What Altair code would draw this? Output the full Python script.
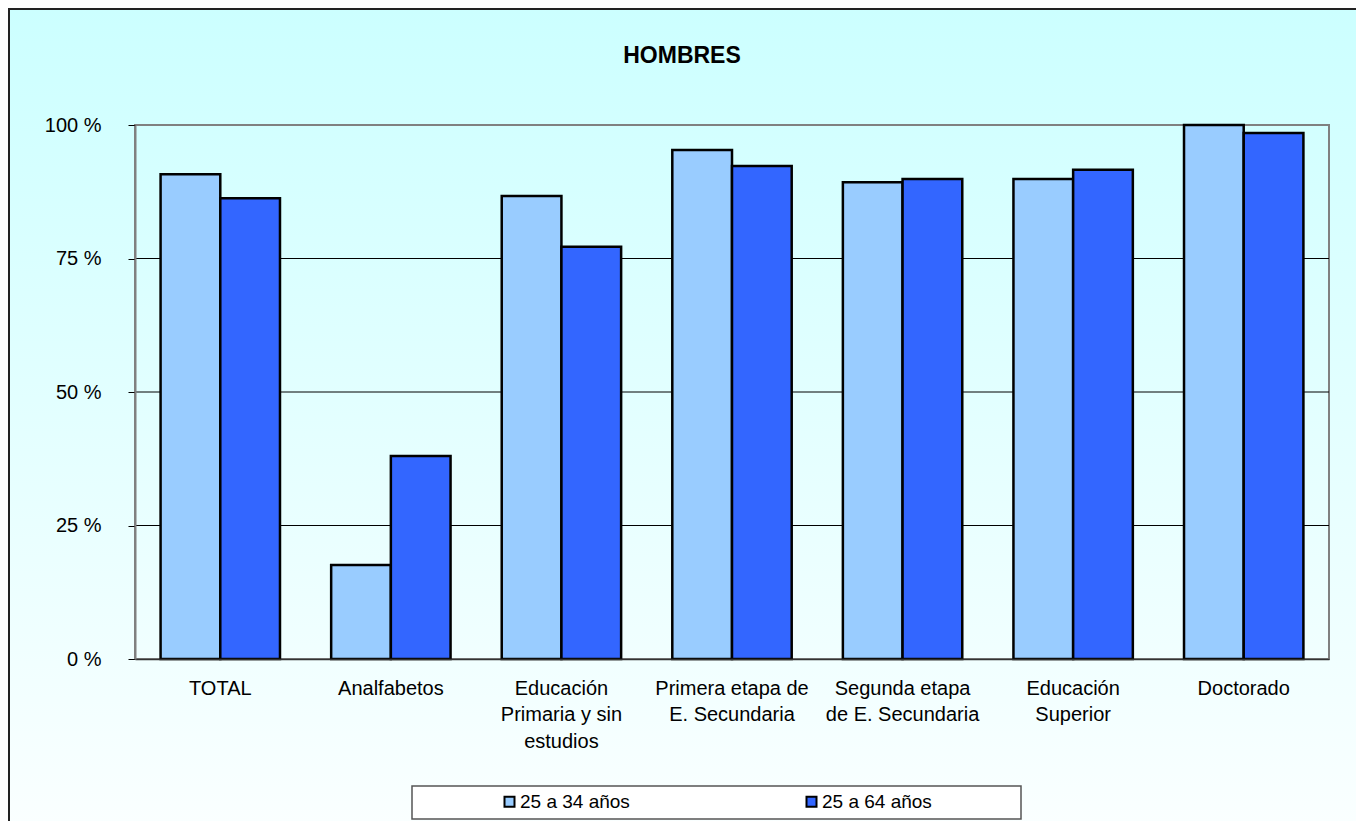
import json
import altair as alt
import pandas as pd

# ---------------- data ----------------
categories = [
    "TOTAL",
    "Analfabetos",
    "Educación Primaria y sin estudios",
    "Primera etapa de E. Secundaria",
    "Segunda etapa de E. Secundaria",
    "Educación Superior",
    "Doctorado",
]
category_lines = [
    ["TOTAL"],
    ["Analfabetos"],
    ["Educación", "Primaria y sin", "estudios"],
    ["Primera etapa de", "E. Secundaria"],
    ["Segunda etapa", "de E. Secundaria"],
    ["Educación", "Superior"],
    ["Doctorado"],
]
series = ["25 a 34 años", "25 a 64 años"]
values_25_34 = [90.8, 17.6, 86.7, 95.3, 89.3, 89.9, 100.0]
values_25_64 = [86.3, 38.0, 77.2, 92.3, 89.9, 91.6, 98.5]
series_colors = ["#99CCFF", "#3366FF"]
y_ticks = [0, 25, 50, 75, 100]
grid_values = [25, 50, 75]
title_text = ["HOMBRES"]

rows = []
for c, a, b in zip(categories, values_25_34, values_25_64):
    rows.append({"cat": c, "serie": series[0], "value": a})
    rows.append({"cat": c, "serie": series[1], "value": b})
df = pd.DataFrame(rows)
grid_df = pd.DataFrame({"value": grid_values})
one = pd.DataFrame({"k": [0]})
title_df = pd.DataFrame({"t": title_text})

# ---------------- layout ----------------
W, H = 1194, 534
PAD = {"left": 127, "top": 117, "right": 27, "bottom": 162}
FONT = "Liberation Sans, Arial, sans-serif"

label_expr = ""
for c, lines in zip(categories, category_lines):
    label_expr += f"datum.value == {json.dumps(c, ensure_ascii=False)} ? {json.dumps(lines, ensure_ascii=False)} : "
label_expr += "datum.value"

y_scale = alt.Scale(domain=[0, 100], nice=False, zero=True)
y_axis = alt.Axis(
    values=y_ticks,
    labelExpr="datum.value + ' %'",
    grid=False,
    title=None,
    domainColor="#808080",
    domainWidth=2,
    tickColor="#000000",
    tickSize=7,
    tickWidth=1,
    labelFont=FONT,
    labelFontSize=20,
    labelColor="#000000",
    labelPadding=27,
    zindex=1,
)
x_axis = alt.Axis(
    title=None,
    labelExpr=label_expr,
    labelAngle=0,
    labelFont=FONT,
    labelFontSize=20,
    labelColor="#000000",
    labelLineHeight=26.5,
    labelPadding=19,
    labelLimit=0,
    ticks=False,
    domainColor="#333333",
    domainWidth=1.5,
    zindex=1,
)

background = alt.Chart(one).mark_rect(
    fill=alt.Gradient(
        gradient="linear",
        stops=[
            alt.GradientStop(color="#CCFFFF", offset=0),
            alt.GradientStop(color="#FCFFFF", offset=1),
        ],
        x1=0, x2=0, y1=0, y2=1,
    ),
    stroke="#222222",
    strokeWidth=2,
).encode(
    x=alt.value(-126), x2=alt.value(W + 28),
    y=alt.value(-116), y2=alt.value(H + 200),
)

frame = alt.Chart(one).mark_rect(
    fillOpacity=0, stroke="#808080", strokeWidth=2
).encode(
    x=alt.value(0), x2=alt.value(W), y=alt.value(0), y2=alt.value(H)
)

legend_box = alt.Chart(one).mark_rect(
    fill="#FFFFFF", stroke="#555555", strokeWidth=1.5
).encode(
    x=alt.value(277), x2=alt.value(886), y=alt.value(661), y2=alt.value(694)
)

title = alt.Chart(title_df).mark_text(
    font=FONT, fontSize=23, fontWeight="bold", color="#000000",
    align="center", baseline="alphabetic",
).encode(
    text="t:N", x=alt.value(547), y=alt.value(-62)
)

grid = alt.Chart(grid_df).mark_rule(color="#000000", strokeWidth=1).encode(
    y=alt.Y("value:Q", scale=y_scale, axis=y_axis)
)

bars = alt.Chart(df).mark_bar(stroke="#000000", strokeWidth=2.5).encode(
    x=alt.X(
        "cat:N",
        sort=categories,
        scale=alt.Scale(paddingInner=0.3, paddingOuter=0.15),
        axis=x_axis,
    ),
    xOffset=alt.XOffset("serie:N", sort=series),
    y=alt.Y("value:Q", scale=y_scale, axis=y_axis),
    color=alt.Color(
        "serie:N",
        sort=series,
        scale=alt.Scale(domain=series, range=series_colors),
        legend=alt.Legend(
            title=None,
            orient="none",
            legendX=365,
            legendY=667,
            direction="horizontal",
            symbolType="square",
            symbolSize=100,
            symbolStrokeColor="#000000",
            symbolStrokeWidth=2,
            symbolOpacity=1,
            labelFont=FONT,
            labelFontSize=19,
            labelColor="#000000",
            labelOffset=1,
            columnPadding=172,
            padding=0,
            zindex=2,
        ),
    ),
)

chart = alt.layer(background, frame, grid, bars, legend_box, title).properties(
    width=W,
    height=H,
    padding=PAD,
    autosize=alt.AutoSizeParams(type="none"),
    background="#FFFFFF",
).configure_view(stroke=None)

chart.save("out.html", embed_options={"renderer": "svg", "actions": False})
